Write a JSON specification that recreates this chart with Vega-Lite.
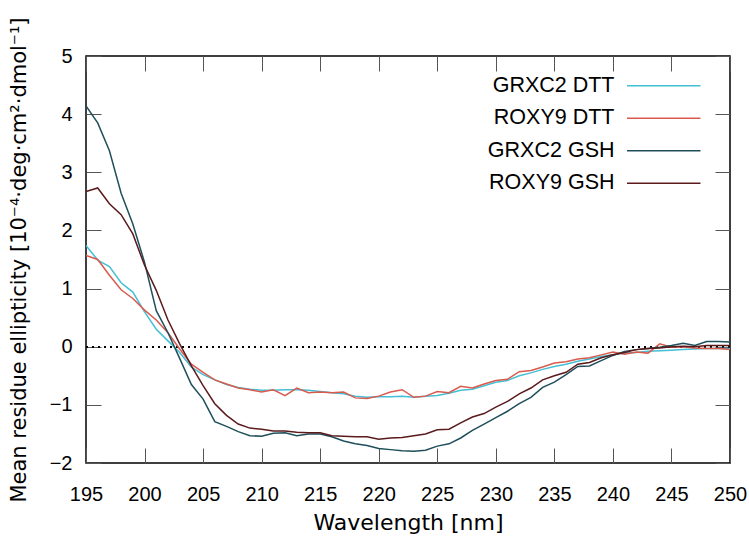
{
  "$schema": "https://vega.github.io/schema/vega-lite/v6.json",
  "width": 644,
  "height": 407,
  "autosize": {"type": "none"},
  "padding": {"left": 86, "top": 56, "right": 19, "bottom": 73},
  "background": "white",
  "config": {
    "view": {"stroke": "black", "strokeWidth": 1.5},
    "axis": {
      "grid": false,
      "domain": false,
      "tickSize": -15,
      "tickColor": "#555555",
      "tickWidth": 1,
      "labelFlush": false,
      "labelFont": "Liberation Sans",
      "labelFontSize": 20,
      "labelColor": "black",
      "titleFont": "DejaVu Sans",
      "titleFontSize": 21.5,
      "titleFontWeight": "normal",
      "titleColor": "black"
    }
  },
  "data": {
    "values": [
      {"w":195,"GRXC2 DTT":1.74,"ROXY9 DTT":1.57,"GRXC2 GSH":4.14,"ROXY9 GSH":2.67},
      {"w":196,"GRXC2 DTT":1.49,"ROXY9 DTT":1.50,"GRXC2 GSH":3.85,"ROXY9 GSH":2.73},
      {"w":197,"GRXC2 DTT":1.38,"ROXY9 DTT":1.23,"GRXC2 GSH":3.37,"ROXY9 GSH":2.46},
      {"w":198,"GRXC2 DTT":1.10,"ROXY9 DTT":0.98,"GRXC2 GSH":2.64,"ROXY9 GSH":2.27},
      {"w":199,"GRXC2 DTT":0.94,"ROXY9 DTT":0.83,"GRXC2 GSH":2.11,"ROXY9 GSH":1.94},
      {"w":200,"GRXC2 DTT":0.60,"ROXY9 DTT":0.63,"GRXC2 GSH":1.45,"ROXY9 GSH":1.40},
      {"w":201,"GRXC2 DTT":0.30,"ROXY9 DTT":0.46,"GRXC2 GSH":0.62,"ROXY9 GSH":0.97},
      {"w":202,"GRXC2 DTT":0.10,"ROXY9 DTT":0.24,"GRXC2 GSH":0.24,"ROXY9 GSH":0.46},
      {"w":203,"GRXC2 DTT":-0.10,"ROXY9 DTT":-0.04,"GRXC2 GSH":-0.20,"ROXY9 GSH":0.05},
      {"w":204,"GRXC2 DTT":-0.35,"ROXY9 DTT":-0.30,"GRXC2 GSH":-0.65,"ROXY9 GSH":-0.33},
      {"w":205,"GRXC2 DTT":-0.48,"ROXY9 DTT":-0.44,"GRXC2 GSH":-0.90,"ROXY9 GSH":-0.67},
      {"w":206,"GRXC2 DTT":-0.57,"ROXY9 DTT":-0.57,"GRXC2 GSH":-1.29,"ROXY9 GSH":-0.98},
      {"w":207,"GRXC2 DTT":-0.65,"ROXY9 DTT":-0.64,"GRXC2 GSH":-1.37,"ROXY9 GSH":-1.18},
      {"w":208,"GRXC2 DTT":-0.70,"ROXY9 DTT":-0.71,"GRXC2 GSH":-1.46,"ROXY9 GSH":-1.33},
      {"w":209,"GRXC2 DTT":-0.73,"ROXY9 DTT":-0.74,"GRXC2 GSH":-1.53,"ROXY9 GSH":-1.40},
      {"w":210,"GRXC2 DTT":-0.75,"ROXY9 DTT":-0.78,"GRXC2 GSH":-1.54,"ROXY9 GSH":-1.42},
      {"w":211,"GRXC2 DTT":-0.75,"ROXY9 DTT":-0.74,"GRXC2 GSH":-1.49,"ROXY9 GSH":-1.45},
      {"w":212,"GRXC2 DTT":-0.74,"ROXY9 DTT":-0.84,"GRXC2 GSH":-1.48,"ROXY9 GSH":-1.45},
      {"w":213,"GRXC2 DTT":-0.74,"ROXY9 DTT":-0.71,"GRXC2 GSH":-1.53,"ROXY9 GSH":-1.47},
      {"w":214,"GRXC2 DTT":-0.75,"ROXY9 DTT":-0.79,"GRXC2 GSH":-1.50,"ROXY9 GSH":-1.48},
      {"w":215,"GRXC2 DTT":-0.77,"ROXY9 DTT":-0.78,"GRXC2 GSH":-1.50,"ROXY9 GSH":-1.48},
      {"w":216,"GRXC2 DTT":-0.79,"ROXY9 DTT":-0.79,"GRXC2 GSH":-1.55,"ROXY9 GSH":-1.53},
      {"w":217,"GRXC2 DTT":-0.81,"ROXY9 DTT":-0.78,"GRXC2 GSH":-1.62,"ROXY9 GSH":-1.54},
      {"w":218,"GRXC2 DTT":-0.85,"ROXY9 DTT":-0.88,"GRXC2 GSH":-1.67,"ROXY9 GSH":-1.55},
      {"w":219,"GRXC2 DTT":-0.87,"ROXY9 DTT":-0.89,"GRXC2 GSH":-1.70,"ROXY9 GSH":-1.55},
      {"w":220,"GRXC2 DTT":-0.86,"ROXY9 DTT":-0.85,"GRXC2 GSH":-1.75,"ROXY9 GSH":-1.59},
      {"w":221,"GRXC2 DTT":-0.86,"ROXY9 DTT":-0.78,"GRXC2 GSH":-1.77,"ROXY9 GSH":-1.57},
      {"w":222,"GRXC2 DTT":-0.85,"ROXY9 DTT":-0.74,"GRXC2 GSH":-1.79,"ROXY9 GSH":-1.56},
      {"w":223,"GRXC2 DTT":-0.87,"ROXY9 DTT":-0.87,"GRXC2 GSH":-1.80,"ROXY9 GSH":-1.53},
      {"w":224,"GRXC2 DTT":-0.85,"ROXY9 DTT":-0.85,"GRXC2 GSH":-1.78,"ROXY9 GSH":-1.50},
      {"w":225,"GRXC2 DTT":-0.84,"ROXY9 DTT":-0.77,"GRXC2 GSH":-1.71,"ROXY9 GSH":-1.43},
      {"w":226,"GRXC2 DTT":-0.80,"ROXY9 DTT":-0.79,"GRXC2 GSH":-1.67,"ROXY9 GSH":-1.42},
      {"w":227,"GRXC2 DTT":-0.75,"ROXY9 DTT":-0.68,"GRXC2 GSH":-1.57,"ROXY9 GSH":-1.31},
      {"w":228,"GRXC2 DTT":-0.73,"ROXY9 DTT":-0.71,"GRXC2 GSH":-1.44,"ROXY9 GSH":-1.21},
      {"w":229,"GRXC2 DTT":-0.67,"ROXY9 DTT":-0.64,"GRXC2 GSH":-1.33,"ROXY9 GSH":-1.15},
      {"w":230,"GRXC2 DTT":-0.61,"ROXY9 DTT":-0.58,"GRXC2 GSH":-1.22,"ROXY9 GSH":-1.04},
      {"w":231,"GRXC2 DTT":-0.58,"ROXY9 DTT":-0.56,"GRXC2 GSH":-1.11,"ROXY9 GSH":-0.94},
      {"w":232,"GRXC2 DTT":-0.50,"ROXY9 DTT":-0.43,"GRXC2 GSH":-0.98,"ROXY9 GSH":-0.81},
      {"w":233,"GRXC2 DTT":-0.45,"ROXY9 DTT":-0.41,"GRXC2 GSH":-0.87,"ROXY9 GSH":-0.71},
      {"w":234,"GRXC2 DTT":-0.39,"ROXY9 DTT":-0.35,"GRXC2 GSH":-0.70,"ROXY9 GSH":-0.57},
      {"w":235,"GRXC2 DTT":-0.34,"ROXY9 DTT":-0.28,"GRXC2 GSH":-0.61,"ROXY9 GSH":-0.50},
      {"w":236,"GRXC2 DTT":-0.30,"ROXY9 DTT":-0.26,"GRXC2 GSH":-0.48,"ROXY9 GSH":-0.44},
      {"w":237,"GRXC2 DTT":-0.25,"ROXY9 DTT":-0.21,"GRXC2 GSH":-0.34,"ROXY9 GSH":-0.30},
      {"w":238,"GRXC2 DTT":-0.21,"ROXY9 DTT":-0.19,"GRXC2 GSH":-0.33,"ROXY9 GSH":-0.27},
      {"w":239,"GRXC2 DTT":-0.17,"ROXY9 DTT":-0.14,"GRXC2 GSH":-0.24,"ROXY9 GSH":-0.19},
      {"w":240,"GRXC2 DTT":-0.14,"ROXY9 DTT":-0.09,"GRXC2 GSH":-0.15,"ROXY9 GSH":-0.14},
      {"w":241,"GRXC2 DTT":-0.11,"ROXY9 DTT":-0.13,"GRXC2 GSH":-0.08,"ROXY9 GSH":-0.10},
      {"w":242,"GRXC2 DTT":-0.10,"ROXY9 DTT":-0.09,"GRXC2 GSH":-0.05,"ROXY9 GSH":-0.05},
      {"w":243,"GRXC2 DTT":-0.08,"ROXY9 DTT":-0.11,"GRXC2 GSH":-0.03,"ROXY9 GSH":-0.03},
      {"w":244,"GRXC2 DTT":-0.07,"ROXY9 DTT":0.05,"GRXC2 GSH":-0.01,"ROXY9 GSH":-0.02},
      {"w":245,"GRXC2 DTT":-0.06,"ROXY9 DTT":-0.01,"GRXC2 GSH":0.02,"ROXY9 GSH":0.00},
      {"w":246,"GRXC2 DTT":-0.05,"ROXY9 DTT":0.00,"GRXC2 GSH":0.06,"ROXY9 GSH":0.01},
      {"w":247,"GRXC2 DTT":-0.04,"ROXY9 DTT":-0.02,"GRXC2 GSH":0.02,"ROXY9 GSH":0.00},
      {"w":248,"GRXC2 DTT":-0.03,"ROXY9 DTT":-0.03,"GRXC2 GSH":0.09,"ROXY9 GSH":0.02},
      {"w":249,"GRXC2 DTT":-0.03,"ROXY9 DTT":-0.03,"GRXC2 GSH":0.09,"ROXY9 GSH":0.02},
      {"w":250,"GRXC2 DTT":-0.03,"ROXY9 DTT":-0.05,"GRXC2 GSH":0.08,"ROXY9 GSH":0.02}
    ]
  },
  "layer": [
    {
      "mark": {"type": "rule", "color": "black", "strokeWidth": 1, "strokeDash": [2, 4]},
      "encoding": {
        "x": {"datum": 195, "type": "quantitative", "scale": {"domain": [195, 250], "nice": false, "zero": false},
              "axis": {"orient": "top", "labels": false, "title": null, "values": [195,200,205,210,215,220,225,230,235,240,245,250]}},
        "x2": {"datum": 250},
        "y": {"datum": 0, "type": "quantitative", "scale": {"domain": [-2, 5], "nice": false},
              "axis": {"orient": "right", "labels": false, "title": null, "values": [-2,-1,0,1,2,3,4,5]}}
      }
    },
    {
      "transform": [{"fold": ["GRXC2 DTT", "ROXY9 DTT", "GRXC2 GSH", "ROXY9 GSH"], "as": ["series", "v"]}],
      "mark": {"type": "line", "strokeWidth": 1.5, "clip": true},
      "encoding": {
        "x": {"field": "w", "type": "quantitative", "scale": {"domain": [195, 250], "nice": false, "zero": false},
              "axis": {"orient": "bottom", "title": "Wavelength [nm]", "titleFontSize": 22, "values": [195,200,205,210,215,220,225,230,235,240,245,250], "labelPadding": 36, "titlePadding": 8}},
        "y": {"field": "v", "type": "quantitative", "scale": {"domain": [-2, 5], "nice": false},
              "axis": {"orient": "left", "title": "Mean residue ellipticity [10⁻⁴·deg·cm²·dmol⁻¹]", "titleFontSize": 21, "values": [-2,-1,0,1,2,3,4,5], "labelPadding": 29, "titlePadding": 20}},
        "color": {
          "field": "series", "type": "nominal",
          "scale": {"domain": ["GRXC2 DTT", "ROXY9 DTT", "GRXC2 GSH", "ROXY9 GSH"], "range": ["#45bfd6", "#d95b4d", "#1e4f5b", "#5b1a1c"]},
          "legend": {
            "title": null, "orient": "none", "legendX": 567, "legendY": 19,
            "symbolType": "M-10,0H10", "symbolSize": 54, "symbolStrokeWidth": 1.5,
            "labelAlign": "right", "labelOffset": -60,
            "labelFont": "Liberation Sans", "labelFontSize": 21.5, "labelColor": "black",
            "rowPadding": 9.5, "labelLimit": 300
          }
        },
        "detail": {"field": "series"}
      }
    }
  ],
  "resolve": {"axis": {"x": "independent", "y": "independent"}}
}
